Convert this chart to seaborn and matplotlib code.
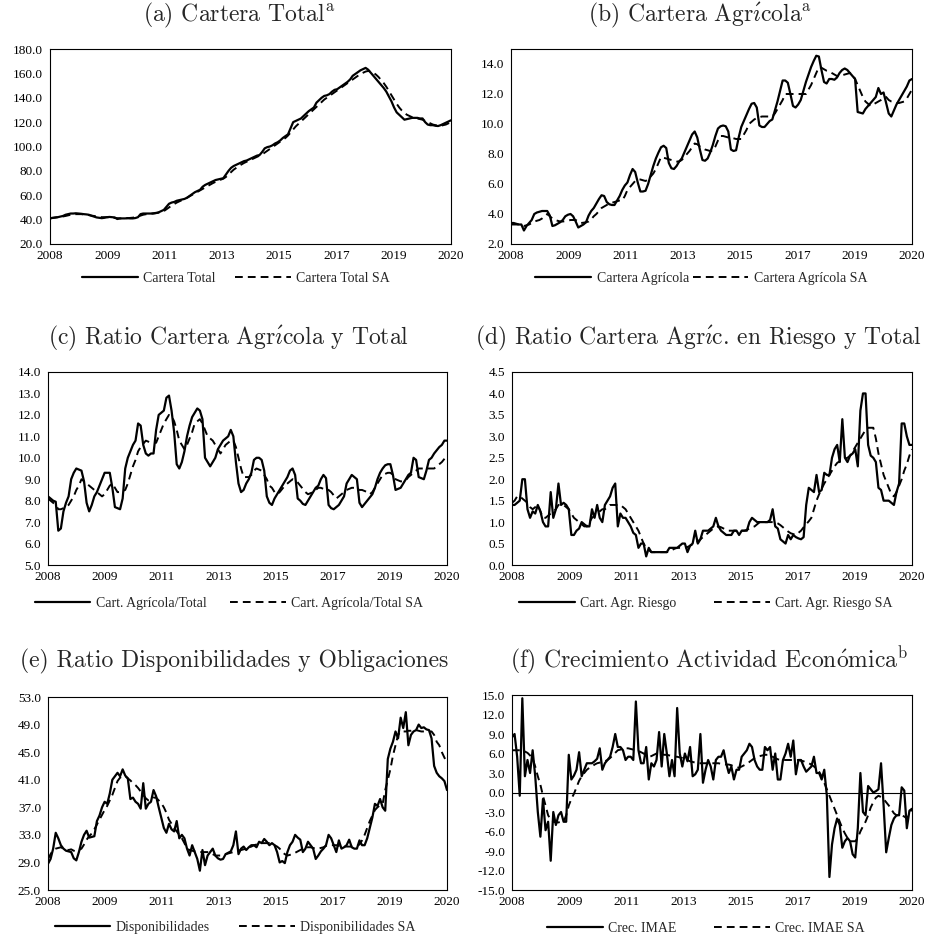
import numpy as np
import pandas as pd
import matplotlib
matplotlib.use("Agg")
import matplotlib.pyplot as plt
import seaborn as sns

# ---------------- data (monthly, index 0..155) ----------------
x_tick_labels = ['2008', '2009', '2011', '2013', '2015', '2017', '2019', '2020']

cartera_total = [
    41.0, 41.5, 41.8, 42.0, 42.5, 43.0, 44.0, 44.5, 45.0, 45.0, 45.2, 45.0,
    44.8, 44.5, 44.3, 44.0, 43.2, 42.5, 41.8, 41.5, 41.2, 41.5, 42.0, 42.2,
    42.0, 41.8, 40.5, 41.0, 41.0, 41.0, 41.2, 41.0, 41.0, 41.3, 42.0, 44.5,
    45.0, 45.0, 45.0, 45.0, 45.2, 45.5, 46.0, 47.0, 48.0, 50.5, 53.0, 54.0,
    54.5, 55.5, 56.0, 56.5, 57.0, 58.0, 59.5, 61.0, 62.5, 63.5, 64.5, 67.0,
    68.5, 69.5, 70.5, 71.5, 72.5, 73.0, 73.5, 74.0, 77.0, 80.0, 82.5, 84.0,
    85.0, 86.0, 87.0, 88.0, 88.5, 89.5, 90.5, 91.5, 92.5, 93.0, 95.5, 98.5,
    99.5, 100.0, 101.0, 102.5, 103.5, 105.0, 107.0, 108.5, 110.0, 115.0, 120.0, 121.0,
    122.0, 123.0, 125.0, 127.0, 129.0, 130.5, 132.0, 136.0, 138.0, 140.0, 141.5, 142.0,
    143.0, 145.0, 146.5, 147.0, 148.5, 150.0, 151.5, 153.0, 155.0, 158.0, 159.5, 161.0,
    162.5, 163.5, 164.5, 163.0, 160.5, 158.0, 155.5, 153.0, 150.5, 148.0, 145.0, 141.0,
    137.0, 132.0, 128.0, 126.0, 124.0, 122.0, 122.5, 123.0, 123.5, 123.5, 123.5, 123.0,
    123.0, 120.0, 118.0, 117.5, 117.5, 117.0, 116.8, 117.5, 118.5, 119.5, 120.5, 121.5]
cartera_total_sa = [
    41.0, 41.3, 41.6, 42.0, 42.3, 42.6, 43.0, 43.5, 44.0, 44.3, 44.5, 44.5,
    44.5, 44.3, 44.0, 43.7, 43.3, 43.0, 42.6, 42.3, 42.0, 42.0, 42.0, 41.8,
    41.6, 41.4, 41.2, 41.0, 41.0, 41.0, 41.2, 41.4, 41.6, 42.0, 42.6, 43.3,
    44.0, 44.4, 44.6, 44.8, 45.0, 45.3, 45.7, 46.3, 47.0, 48.5, 50.0, 51.5,
    52.8, 54.0, 55.0, 56.0, 57.0, 58.0, 59.2, 60.4, 61.6, 62.8, 64.0, 65.2,
    66.4, 67.6, 68.8, 70.0, 71.0, 72.0, 72.8, 73.6, 75.0, 77.0, 79.0, 81.0,
    82.5, 84.0, 85.3, 86.5, 87.5, 88.5, 89.5, 90.5, 91.5, 92.5, 93.5, 95.0,
    96.5, 98.0, 99.5, 101.0, 102.5, 104.0, 105.5, 107.0, 109.0, 111.5, 114.0, 116.5,
    118.5, 120.5, 122.5, 124.5, 126.5, 128.5, 130.5, 132.5, 134.5, 136.5, 138.5, 140.0,
    141.5, 143.0, 144.5, 146.0, 147.5, 149.0, 150.5, 152.0, 153.5, 155.0, 156.5, 158.0,
    159.5, 160.5, 161.5, 162.0, 161.5, 160.5, 159.0, 157.0, 154.5, 152.0, 149.0, 145.5,
    142.0, 138.5, 135.0, 132.0, 129.5, 127.5, 126.0, 125.0, 124.0, 123.5, 123.0, 122.5,
    122.0, 121.0, 120.0, 119.0, 118.0, 117.5, 117.0, 117.0, 117.5, 118.0, 119.0, 120.0]

cartera_agricola = [
    3.4, 3.4, 3.35, 3.3, 3.3, 2.9, 3.2, 3.4, 3.6, 4.0, 4.1, 4.15,
    4.2, 4.2, 4.2, 3.9, 3.2, 3.25, 3.35, 3.45, 3.6, 3.85, 3.95, 4.0,
    3.85, 3.5, 3.1, 3.2, 3.3, 3.45, 3.9, 4.2, 4.4, 4.7, 5.0, 5.25,
    5.2, 4.8, 4.65, 4.6, 4.6, 4.9, 5.2, 5.6, 5.9, 6.1, 6.6, 7.0,
    6.8, 6.1, 5.5, 5.5, 5.55, 6.0, 6.6, 7.2, 7.7, 8.1, 8.45, 8.55,
    8.4, 7.4, 7.05, 7.0, 7.2, 7.5, 7.7, 8.1, 8.5, 8.9, 9.3, 9.5,
    9.1, 8.3, 7.6, 7.55, 7.7, 8.1, 8.6, 9.2, 9.7, 9.85, 9.9, 9.85,
    9.5, 8.3, 8.2, 8.25, 9.1, 9.8, 10.2, 10.6, 11.0, 11.35, 11.4, 11.1,
    9.9, 9.8, 9.8, 10.0, 10.2, 10.3, 10.9, 11.5, 12.2, 12.9, 12.9, 12.75,
    12.0, 11.2, 11.1, 11.3, 11.6, 12.2, 12.8, 13.3, 13.8, 14.2, 14.55, 14.5,
    13.6, 12.8, 12.7, 13.0, 13.0, 12.95, 13.1, 13.4, 13.6, 13.7, 13.6, 13.4,
    13.2, 13.0, 10.8, 10.75, 10.7, 11.0, 11.2, 11.4, 11.6, 11.8, 12.4, 12.0,
    12.1, 11.4, 10.7, 10.5, 10.9, 11.3, 11.6, 11.9, 12.2, 12.5, 12.9, 13.0]
cartera_agricola_sa = [
    3.3, 3.3, 3.3, 3.3, 3.25, 3.2, 3.25, 3.3, 3.4, 3.5, 3.55, 3.6,
    3.7, 3.85, 4.0, 3.85, 3.7, 3.6, 3.55, 3.5, 3.5, 3.52, 3.55, 3.6,
    3.6, 3.6, 3.5, 3.4, 3.42, 3.45, 3.5, 3.65, 3.85, 4.0, 4.2, 4.4,
    4.5, 4.6, 4.7, 4.75, 4.8, 4.85, 4.9, 4.9, 5.2, 5.6, 5.8, 6.0,
    6.2, 6.3, 6.3, 6.25, 6.2, 6.3, 6.5, 6.7, 7.0, 7.4, 7.8, 7.75,
    7.7, 7.65, 7.6, 7.55, 7.5, 7.5, 7.6, 7.8, 8.0, 8.2, 8.45, 8.7,
    8.65, 8.5, 8.4, 8.3, 8.25, 8.2, 8.2, 8.5, 8.9, 9.2, 9.2, 9.15,
    9.1, 9.1, 9.05, 9.0, 9.0, 9.0, 9.3, 9.6, 10.0, 10.15, 10.3, 10.4,
    10.45, 10.5, 10.5, 10.5, 10.5, 10.5, 10.7, 11.0, 11.3, 11.6, 12.0, 12.0,
    12.0, 12.0, 12.0, 12.0, 12.0, 12.0, 12.0, 12.3, 12.6, 13.0, 13.4, 13.8,
    13.75, 13.65, 13.55, 13.5, 13.4, 13.3, 13.2, 13.2, 13.25, 13.3, 13.35, 13.4,
    13.3, 13.0, 12.6, 12.2, 11.8, 11.5, 11.35, 11.2, 11.3, 11.4, 11.5, 11.6,
    11.75, 11.8, 11.6, 11.5, 11.45, 11.4, 11.4, 11.45, 11.5, 11.7, 12.0, 12.3]

ratio_agricola_total = [
    8.2, 8.1, 8.0, 7.95, 6.6, 6.7, 7.5, 7.9, 8.2, 9.0, 9.3, 9.5,
    9.45, 9.4, 8.9, 7.9, 7.5, 7.8, 8.2, 8.4, 8.7, 9.0, 9.3, 9.3,
    9.3, 8.6, 7.7, 7.65, 7.6, 8.1, 9.5, 10.0, 10.3, 10.6, 10.8, 11.6,
    11.5, 10.6, 10.2, 10.1, 10.2, 10.2, 11.3, 12.0, 12.1, 12.2, 12.8, 12.9,
    12.2, 11.2, 9.7, 9.5, 9.8, 10.3, 11.0, 11.5, 11.9, 12.1, 12.3, 12.2,
    11.8, 10.0, 9.8, 9.6, 9.8, 10.0, 10.4, 10.6, 10.8, 10.9, 11.0, 11.3,
    11.0, 9.8, 8.8, 8.4, 8.5, 8.8, 9.0, 9.3, 9.9, 10.0, 10.0, 9.9,
    9.4, 8.2, 7.9, 7.8, 8.1, 8.3, 8.5, 8.7, 8.9, 9.1, 9.4, 9.5,
    9.2, 8.1, 8.0, 7.85, 7.8, 8.0, 8.2, 8.4, 8.6, 8.7, 9.0, 9.2,
    9.05, 7.8, 7.65, 7.6, 7.7, 7.8, 8.0, 8.2, 8.8, 9.0, 9.2, 9.1,
    9.0, 7.9, 7.7, 7.85, 8.0, 8.15, 8.3, 8.6, 9.0, 9.3, 9.5, 9.65,
    9.7, 9.7, 9.2, 8.5, 8.55, 8.6, 8.8, 9.0, 9.2, 9.3, 10.0, 9.9,
    9.1, 9.05, 9.0, 9.4, 9.9, 10.0, 10.2, 10.35, 10.5, 10.6, 10.8, 10.8]
ratio_agricola_total_sa = [
    8.1, 8.0, 7.9, 7.8, 7.6, 7.6, 7.65, 7.7, 7.8, 8.0, 8.2, 8.5,
    8.7, 9.0, 8.9, 8.8, 8.7, 8.6, 8.5, 8.4, 8.3, 8.2, 8.3, 8.5,
    8.7, 8.8, 8.6, 8.4, 8.4, 8.45, 8.5, 8.8, 9.2, 9.6, 9.9, 10.3,
    10.5, 10.65, 10.8, 10.75, 10.7, 10.7, 10.7, 11.0, 11.3, 11.6, 11.8, 12.0,
    11.95, 11.7, 11.3, 10.8, 10.6, 10.4, 10.6, 10.9, 11.2, 11.6, 11.7, 11.8,
    11.6, 11.3, 11.0, 10.9, 10.8, 10.6, 10.4, 10.2, 10.4, 10.6, 10.7, 10.8,
    10.8, 10.5, 10.0, 9.5, 9.1, 9.1, 9.1, 9.2, 9.4, 9.5, 9.45, 9.4,
    9.2, 9.0, 8.7, 8.6, 8.4, 8.3, 8.4, 8.55, 8.7, 8.8, 8.9, 9.0,
    8.95, 8.85, 8.7, 8.55, 8.4, 8.3, 8.35, 8.4, 8.5, 8.6, 8.6, 8.55,
    8.5, 8.5, 8.4, 8.25, 8.1, 8.2, 8.3, 8.4, 8.5, 8.55, 8.6, 8.6,
    8.55, 8.5, 8.5, 8.45, 8.4, 8.3, 8.4, 8.6, 8.8, 9.0, 9.2, 9.25,
    9.3, 9.3, 9.2, 9.0, 8.95, 8.9, 8.9, 8.95, 9.1, 9.2, 9.3, 9.4,
    9.5, 9.5, 9.5, 9.5, 9.5, 9.5, 9.5, 9.6, 9.7, 9.8, 9.95, 10.1]

ratio_riesgo = [
    1.4, 1.4, 1.45, 1.5, 2.0, 2.0, 1.3, 1.1, 1.25, 1.2, 1.4, 1.25,
    1.0, 0.9, 0.9, 1.7, 1.1, 1.3, 1.9, 1.4, 1.45, 1.4, 1.3, 0.7,
    0.7, 0.8, 0.85, 1.0, 0.95, 0.9, 0.9, 1.3, 1.1, 1.4, 1.1, 1.0,
    1.4, 1.5, 1.6, 1.8, 1.9, 0.9, 1.2, 1.1, 1.1, 1.0, 0.9, 0.75,
    0.7, 0.4, 0.5, 0.5, 0.2, 0.4, 0.3, 0.3, 0.3, 0.3, 0.3, 0.3,
    0.3, 0.4, 0.4, 0.4, 0.4, 0.45, 0.5, 0.5, 0.3, 0.45, 0.5, 0.8,
    0.5, 0.6, 0.8, 0.8, 0.8, 0.85, 0.9, 1.1, 0.9, 0.8, 0.75, 0.7,
    0.7, 0.7, 0.8, 0.8, 0.7, 0.8, 0.8, 0.8, 1.0, 1.1, 1.05, 1.0,
    1.0, 1.0, 1.0, 1.0, 1.05, 1.3, 0.9, 0.85, 0.6, 0.55, 0.5, 0.7,
    0.6, 0.7, 0.65, 0.62, 0.6, 0.65, 1.4, 1.8, 1.75, 1.7, 2.1, 1.7,
    1.75, 2.15, 2.1, 2.1, 2.5, 2.7, 2.8, 2.4, 3.4, 2.5, 2.4, 2.55,
    2.6, 2.7, 2.3, 3.6, 4.0, 4.0, 2.8, 2.55, 2.5, 2.4, 1.8, 1.75,
    1.5, 1.5, 1.5, 1.45, 1.4, 1.7, 1.9, 3.3, 3.3, 3.0, 2.8, 2.8]
ratio_riesgo_sa = [
    1.45, 1.5, 1.6, 1.6, 1.55, 1.5, 1.45, 1.35, 1.3, 1.35, 1.4, 1.25,
    1.1, 1.1, 1.15, 1.2, 1.25, 1.3, 1.4, 1.4, 1.4, 1.35, 1.3, 1.2,
    1.1, 1.05, 1.0, 0.95, 0.9, 0.9, 1.0, 1.1, 1.15, 1.2, 1.25, 1.3,
    1.3, 1.35, 1.4, 1.4, 1.4, 1.4, 1.4, 1.35, 1.3, 1.2, 1.1, 1.0,
    0.9, 0.8, 0.65, 0.5, 0.4, 0.35, 0.3, 0.3, 0.3, 0.3, 0.3, 0.3,
    0.3, 0.32, 0.35, 0.38, 0.4, 0.4, 0.4, 0.4, 0.42, 0.45, 0.48, 0.5,
    0.55, 0.6, 0.65, 0.7, 0.75, 0.8, 0.85, 0.88, 0.9, 0.88, 0.85, 0.82,
    0.8, 0.8, 0.8, 0.8, 0.8, 0.8, 0.8, 0.82, 0.85, 0.88, 0.9, 0.95,
    1.0, 1.0, 1.0, 1.0, 1.0, 1.0, 1.0, 0.97, 0.93, 0.88, 0.83, 0.78,
    0.74, 0.72, 0.7, 0.75, 0.8, 0.88, 0.95, 1.02, 1.1, 1.3, 1.5, 1.65,
    1.78, 1.9, 2.0, 2.1, 2.2, 2.3, 2.38, 2.42, 2.45, 2.48, 2.5, 2.55,
    2.65, 2.75, 2.85, 2.95, 3.05, 3.15, 3.2, 3.2, 3.2, 2.95, 2.6, 2.35,
    2.1, 1.95, 1.8, 1.65, 1.6, 1.7, 1.85, 2.0, 2.2, 2.35, 2.55, 2.7]

disponibilidades = [
    28.8, 29.5, 31.0, 33.3, 32.5, 31.5, 31.0, 30.7, 30.6, 30.5, 29.6, 29.3,
    30.5, 32.0, 33.0, 33.6, 32.6, 32.7, 32.8, 35.0, 35.8, 37.0, 37.8, 37.5,
    39.0, 41.0, 41.5, 42.0, 41.5, 42.5, 41.6, 41.2, 38.2, 38.4, 37.8, 37.5,
    36.8, 40.5, 36.8, 37.5, 37.8, 39.5, 38.6, 37.0, 35.5, 34.0, 33.3, 34.6,
    33.8, 33.5, 35.0, 32.5, 33.0, 32.5, 31.0, 30.0, 31.5, 30.5, 29.5, 27.8,
    30.8, 28.6, 30.0, 30.5, 31.0, 30.0, 29.6, 29.4, 29.5, 30.2, 30.4, 30.6,
    31.5, 33.5, 30.2, 31.0, 31.3, 30.8, 31.2, 31.5, 31.5, 31.2, 32.0, 31.8,
    32.4, 32.0, 31.5, 31.8, 31.5, 30.5, 29.0, 29.2, 28.9, 30.5, 31.5, 32.0,
    33.0, 32.6, 32.3, 30.5, 31.0, 32.0, 31.5, 31.0, 29.5, 30.0, 30.6, 31.0,
    31.5, 33.0, 32.5, 31.5, 30.5, 32.2, 31.0, 31.2, 31.5, 32.3, 31.2, 31.0,
    31.0, 32.2, 31.5, 31.5, 32.5, 34.0, 35.5, 37.5, 37.2, 38.2, 37.0, 36.5,
    44.0, 45.5, 46.5, 48.0, 47.0, 50.0, 48.5, 50.8, 46.0, 47.5, 48.0, 48.2,
    49.0, 48.5, 48.6, 48.3, 48.2, 47.0, 43.0, 42.0, 41.5, 41.2, 40.8, 39.5]
disponibilidades_sa = [
    29.5, 30.2, 30.8, 31.0, 31.1, 31.2, 31.0, 30.9, 30.8, 30.9, 30.7, 30.6,
    30.8, 31.0, 31.6, 32.3, 32.8, 33.2, 33.8, 34.5, 35.2, 35.9, 36.6, 37.2,
    38.0, 38.8, 39.8, 40.8, 41.3, 41.5, 41.5, 41.2, 40.9, 40.5, 40.2, 39.8,
    39.3, 38.8, 38.3, 38.0, 38.1, 38.4, 38.4, 38.0, 37.6, 37.0, 36.2, 35.2,
    34.6, 34.0, 33.5, 33.0, 32.5, 31.8, 31.0, 30.8, 30.7, 30.6, 30.5, 30.5,
    30.5, 30.5, 30.5, 30.4, 30.2, 30.0, 30.0, 30.0, 30.1, 30.2, 30.3, 30.4,
    30.5, 30.6, 30.7, 30.8, 30.9, 31.0, 31.2, 31.3, 31.5, 31.6, 31.7, 31.8,
    31.8, 31.8, 31.8, 31.6, 31.5, 31.3, 31.0, 30.5, 30.2, 30.0, 30.1, 30.2,
    30.4, 30.6, 30.8, 31.0, 31.1, 31.2, 31.2, 31.1, 31.0, 31.0, 31.1, 31.2,
    31.4, 31.5, 31.5, 31.5, 31.5, 31.4, 31.3, 31.3, 31.3, 31.3, 31.3, 31.3,
    31.4, 31.6, 32.2, 33.0, 34.0, 35.0, 35.8, 36.6, 37.0, 37.3, 37.5, 39.5,
    41.0, 42.5, 44.5, 46.0, 47.5, 48.0, 48.0, 48.0, 48.1, 48.1, 48.2, 48.2,
    48.1, 48.0, 48.0, 48.0, 48.0, 48.0, 47.5, 46.5, 46.0, 45.0, 44.2, 43.5]

crec_imae = [
    8.5, 9.0, 5.5, -0.5, 14.5, 2.5, 5.0, 3.0, 6.5, 2.5, -3.0, -6.8,
    -1.0, -5.8, -4.5, -10.5, -3.0, -5.0, -3.5, -3.0, -4.5, -4.5, 5.8, 2.0,
    2.6, 3.5, 6.2, 2.5, 3.5, 4.5, 4.5, 4.5, 4.8, 5.2, 6.8, 3.5,
    4.5, 5.0, 5.5, 7.0, 9.0, 7.0, 7.0, 6.5, 5.0, 5.5, 5.5, 5.0,
    14.0, 6.5, 4.5, 4.5, 7.0, 2.0, 4.5, 4.0, 5.0, 9.3, 4.0, 9.0,
    6.0, 2.5, 5.0, 2.5, 13.0, 6.0, 4.0, 6.0, 4.8, 7.0, 2.5, 2.8,
    3.5, 9.0, 1.5, 3.5, 5.0, 4.0, 2.0, 5.0, 5.5, 5.5, 6.5, 4.5,
    3.0, 4.0, 2.0, 3.5, 3.5, 5.5, 6.0, 6.5, 7.5, 7.0, 5.0, 4.0,
    3.5, 3.5, 7.0, 6.5, 7.0, 3.5, 6.0, 2.0, 2.0, 5.0, 6.0, 7.5,
    5.5, 8.0, 2.8, 5.0, 5.0, 4.0, 3.2, 3.6, 4.0, 5.5, 3.0, 3.0,
    2.0, 3.5, -0.5, -13.0, -8.0, -5.5, -4.0, -5.0, -8.5, -7.5, -7.0, -7.5,
    -9.5, -10.0, -5.5, 3.0, -3.0, -3.5, 1.0, 0.5, 0.0, 0.2, 0.5, 4.5,
    -2.0, -9.2, -7.0, -5.0, -4.0, -3.5, -3.5, 0.8, 0.3, -5.5, -2.8, -2.5]
crec_imae_sa = [
    6.5, 6.5, 6.5, 6.5, 6.5, 6.3, 6.1, 5.7, 5.2, 4.0, 2.5, 1.2,
    -0.5, -2.0, -3.5, -4.2, -4.5, -4.6, -4.6, -4.5, -4.5, -3.5, -2.0, -1.0,
    -0.2, 0.8, 1.8, 2.5, 3.0, 3.5, 3.8, 4.0, 4.3, 4.5, 4.6, 4.7,
    4.8, 5.0, 5.3, 5.7, 6.1, 6.5, 6.6, 6.7, 6.8, 6.8, 6.7, 6.6,
    6.5, 6.4, 6.2, 6.0, 5.7, 5.5, 5.6, 5.8, 6.0, 6.0, 5.9, 5.8,
    5.8, 5.7, 5.6, 5.5, 5.5, 5.4, 5.3, 5.1, 5.0, 4.8, 4.7, 4.6,
    4.5, 4.5, 4.5, 4.5, 4.5, 4.5, 4.5, 4.5, 4.5, 4.4, 4.4, 4.3,
    4.3, 4.2, 4.0, 3.9, 3.8, 4.0, 4.2, 4.4, 4.7, 5.0, 5.3, 5.5,
    5.6, 5.7, 5.8, 5.8, 5.7, 5.5, 5.3, 5.1, 5.0, 5.0, 5.0, 5.0,
    5.0, 5.0, 5.0, 5.0, 4.9, 4.8, 4.6, 4.5, 4.3, 4.0, 3.7, 3.2,
    2.5, 1.5, 0.5, -0.5, -1.5, -2.5, -3.5, -4.5, -5.5, -6.3, -7.0, -7.5,
    -7.5, -7.5, -7.0, -6.0, -5.2, -4.5, -3.5, -2.3, -1.5, -0.8, -0.5, -0.7,
    -1.0, -1.5, -2.0, -2.6, -3.2, -3.5, -3.5, -3.5, -3.7, -4.0, -3.2, -2.5]

# ---------------- style ----------------
sns.set_style("white")
plt.rcParams['font.family'] = ['Liberation Serif', 'DejaVu Serif']
plt.rcParams['axes.unicode_minus'] = False
plt.rcParams['mathtext.fontset'] = 'cm'

W, H = 930, 938
fig = plt.figure(figsize=(W / 100, H / 100), dpi=100)


def rect(x0, x1, y0, y1):
    return [x0 / W, 1 - y1 / H, (x1 - x0) / W, (y1 - y0) / H]


panels = [
    dict(title=r"(a) Cartera Total$^{\mathrm{a}}$", tx=239, ty=15,
         rect=rect(50, 451, 49, 244), solid=cartera_total, sa=cartera_total_sa,
         labels=("Cartera Total", "Cartera Total SA"),
         ylim=(20, 180), yticks=np.arange(20, 181, 20), lx=0.464, ly=-0.175, cs=1.4),
    dict(title=r"(b) Cartera Agr$\acute{\imath}$cola$^{\mathrm{a}}$", tx=700, ty=15,
         rect=rect(511, 912, 49, 244), solid=cartera_agricola, sa=cartera_agricola_sa,
         labels=("Cartera Agrícola", "Cartera Agrícola SA"),
         ylim=(2, 15), yticks=np.arange(2, 14.1, 2), lx=0.475, ly=-0.175, cs=0.3),
    dict(title=r"(c) Ratio Cartera Agr$\acute{\imath}$cola y Total", tx=228, ty=338,
         rect=rect(48, 447, 372, 565), solid=ratio_agricola_total, sa=ratio_agricola_total_sa,
         labels=("Cart. Agrícola/Total", "Cart. Agrícola/Total SA"),
         ylim=(5, 14), yticks=np.arange(5, 14.1, 1), lx=0.454, ly=-0.197, cs=1.7),
    dict(title=r"(d) Ratio Cartera Agr$\acute{\imath}$c. en Riesgo y Total", tx=698, ty=338,
         rect=rect(512, 912, 372, 565), solid=ratio_riesgo, sa=ratio_riesgo_sa,
         labels=("Cart. Agr. Riesgo", "Cart. Agr. Riesgo SA"),
         ylim=(0, 4.5), yticks=np.arange(0, 4.51, 0.5), lx=0.485, ly=-0.197, cs=2.7),
    dict(title="(e) Ratio Disponibilidades y Obligaciones", tx=234, ty=661,
         rect=rect(48, 447, 697, 890), solid=disponibilidades, sa=disponibilidades_sa,
         labels=("Disponibilidades", "Disponibilidades SA"),
         ylim=(25, 53), yticks=np.arange(25, 53.1, 4), lx=0.469, ly=-0.192, cs=2.1),
    dict(title=r"(f) Crecimiento Actividad Econ$\acute{\mathrm{o}}$mica$^{\mathrm{b}}$", tx=709, ty=661,
         rect=rect(512, 912, 695, 890), solid=crec_imae, sa=crec_imae_sa,
         labels=("Crec. IMAE", "Crec. IMAE SA"),
         ylim=(-15, 15), yticks=np.arange(-15, 15.1, 3), lx=0.485, ly=-0.195, cs=2.7),
]

for k, p in enumerate(panels):
    ax = fig.add_axes(p['rect'])
    n = len(p['solid'])
    df = pd.DataFrame({'idx': np.arange(n), 'solid': p['solid'], 'sa': p['sa']})
    if k == 5:
        ax.axhline(0, color='black', lw=0.8, zorder=1)
    sns.lineplot(data=df, x='idx', y='solid', ax=ax, color='black', lw=1.6,
                 label=p['labels'][0], zorder=3)
    sns.lineplot(data=df, x='idx', y='sa', ax=ax, color='black', lw=1.4,
                 linestyle=(0, (4, 2.6)), label=p['labels'][1], zorder=2)
    ax.set_xlim(0, n - 1)
    ax.set_ylim(*p['ylim'])
    ax.set_xticks(np.linspace(0, n - 1, len(x_tick_labels)))
    ax.set_xticklabels(x_tick_labels)
    ax.set_yticks(p['yticks'])
    ax.set_yticklabels([f"{v:.1f}" for v in p['yticks']])
    ax.set_xlabel('')
    ax.set_ylabel('')
    for s in ax.spines.values():
        s.set_visible(True)
        s.set_color('black')
        s.set_linewidth(0.8)
    ax.tick_params(axis='x', direction='in', length=3, width=0.8,
                   labelsize=9.5, pad=4, color='black', labelcolor='black')
    ax.tick_params(axis='y', length=0, labelsize=9.5, pad=5, labelcolor='black')
    ax.legend(loc='center', bbox_to_anchor=(p['lx'], p['ly']), ncol=2,
              frameon=False, handlelength=4.0, handletextpad=0.4,
              columnspacing=p['cs'], fontsize=10, borderaxespad=0)
    fig.text(p['tx'] / W, 1 - p['ty'] / H, p['title'], ha='center', va='center',
             fontsize=17, family=['cmr10', 'DejaVu Serif'])

fig.savefig("out.png", dpi=100)
